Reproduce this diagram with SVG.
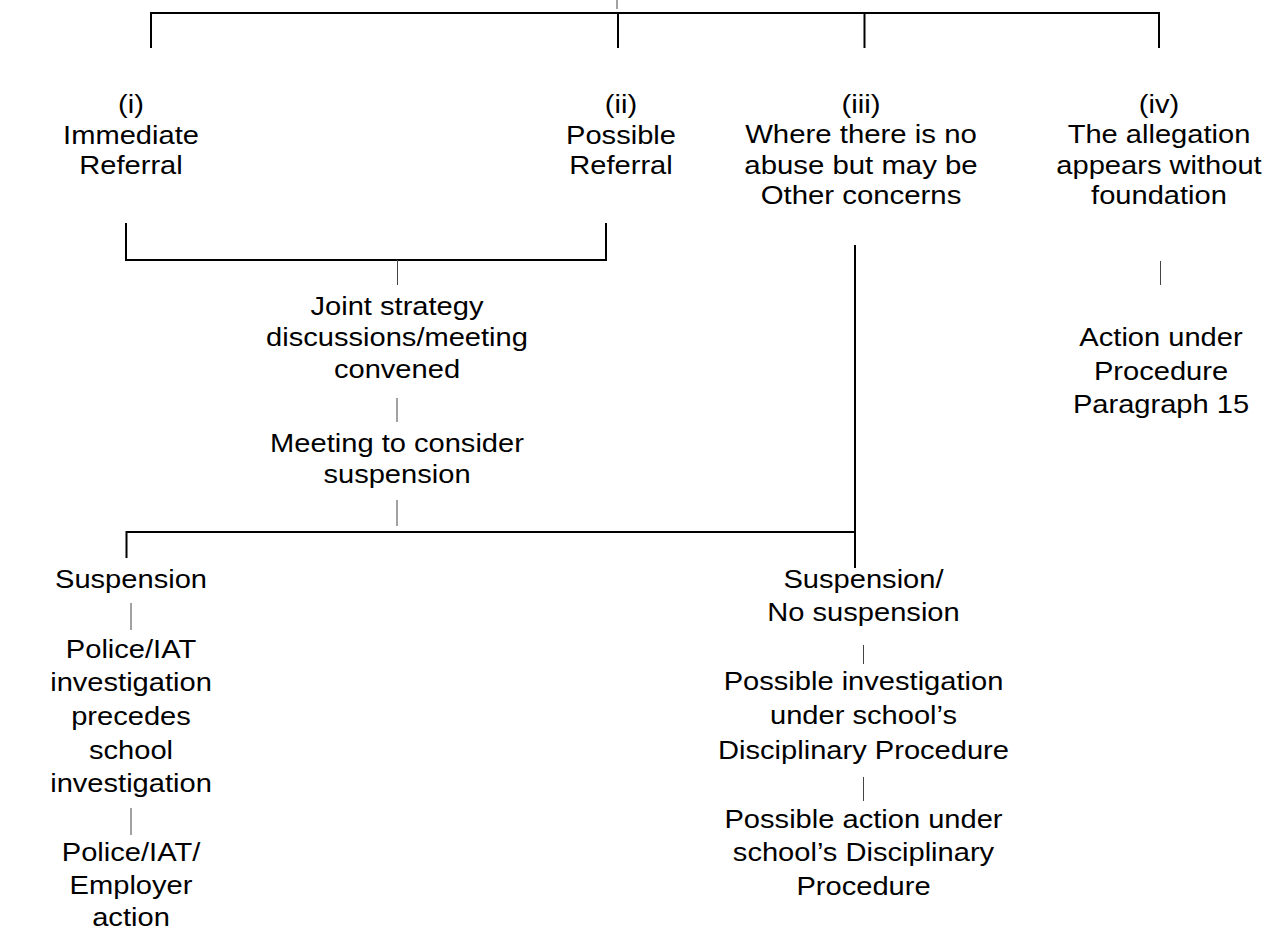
<svg xmlns="http://www.w3.org/2000/svg" width="1281" height="930" viewBox="0 0 1281 930">
<style>
.t{font-family:"Liberation Sans",Arial,sans-serif;font-size:26.7px;fill:#000;text-anchor:middle}
.b{stroke:#000;stroke-width:2;fill:none}
.c{stroke:#444;stroke-width:1;fill:none}
</style>
<rect width="1281" height="930" fill="#fff"/>
<g id="connectors">
<line class="c" x1="617" y1="0" x2="617" y2="9"/>
<polyline class="b" points="151,48 151,13 1159,13 1159,48"/>
<line class="b" x1="618" y1="13" x2="618" y2="48"/>
<line class="b" x1="864.5" y1="13" x2="864.5" y2="48"/>
<polyline class="b" points="126,223 126,260 606,260 606,223"/>
<line class="c" x1="397.5" y1="260" x2="397.5" y2="285"/>
<line class="c" x1="397" y1="398" x2="397" y2="422"/>
<line class="c" x1="397" y1="500" x2="397" y2="526"/>
<line class="b" x1="855" y1="245" x2="855" y2="568"/>
<polyline class="b" points="126.5,558 126.5,532 855,532"/>
<line class="c" x1="1160.5" y1="261" x2="1160.5" y2="285"/>
<line class="c" x1="131" y1="603" x2="131" y2="630"/>
<line class="c" x1="131" y1="808" x2="131" y2="835"/>
<line class="c" x1="863.5" y1="645" x2="863.5" y2="664"/>
<line class="c" x1="863.5" y1="777" x2="863.5" y2="801"/>
</g>
<g id="n-i" transform="translate(131 0) scale(1.09 1)">
<text class="t" x="0" y="113">(i)</text>
<text class="t" x="0" y="144">Immediate</text>
<text class="t" x="0" y="174.5">Referral</text>
</g>
<g id="n-ii" transform="translate(621 0) scale(1.09 1)">
<text class="t" x="0" y="113">(ii)</text>
<text class="t" x="0" y="144">Possible</text>
<text class="t" x="0" y="174.5">Referral</text>
</g>
<g id="n-iii" transform="translate(861 0) scale(1.1 1)">
<text class="t" x="0" y="113">(iii)</text>
<text class="t" x="0" y="143.5">Where there is no</text>
<text class="t" x="0" y="174">abuse but may be</text>
<text class="t" x="0" y="204.5">Other concerns</text>
</g>
<g id="n-iv" transform="translate(1159 0) scale(1.09 1)">
<text class="t" x="0" y="113">(iv)</text>
<text class="t" x="0" y="143.5">The allegation</text>
<text class="t" x="0" y="174">appears without</text>
<text class="t" x="0" y="204.5">foundation</text>
</g>
<g id="n-joint" transform="translate(397 0) scale(1.09 1)">
<text class="t" x="0" y="315">Joint strategy</text>
<text class="t" x="0" y="346.5">discussions/meeting</text>
<text class="t" x="0" y="378">convened</text>
</g>
<g id="n-meeting" transform="translate(397 0) scale(1.09 1)">
<text class="t" x="0" y="452">Meeting to consider</text>
<text class="t" x="0" y="483">suspension</text>
</g>
<g id="n-action15" transform="translate(1161 0) scale(1.09 1)">
<text class="t" x="0" y="346">Action under</text>
<text class="t" x="0" y="380">Procedure</text>
<text class="t" x="0" y="413">Paragraph 15</text>
</g>
<g id="n-suspension" transform="translate(131 0) scale(1.09 1)">
<text class="t" x="0" y="588">Suspension</text>
</g>
<g id="n-police" transform="translate(131 0) scale(1.09 1)">
<text class="t" x="0" y="658">Police/IAT</text>
<text class="t" x="0" y="691">investigation</text>
<text class="t" x="0" y="725">precedes</text>
<text class="t" x="0" y="759">school</text>
<text class="t" x="0" y="792">investigation</text>
</g>
<g id="n-employer" transform="translate(131 0) scale(1.09 1)">
<text class="t" x="0" y="861">Police/IAT/</text>
<text class="t" x="0" y="894">Employer</text>
<text class="t" x="0" y="926">action</text>
</g>
<g id="n-nosusp" transform="translate(863.5 0) scale(1.09 1)">
<text class="t" x="0" y="588">Suspension/</text>
<text class="t" x="0" y="621.5">No suspension</text>
</g>
<g id="n-possinv" transform="translate(863.5 0) scale(1.09 1)">
<text class="t" x="0" y="690.5">Possible investigation</text>
<text class="t" x="0" y="724">under school’s</text>
<text class="t" x="0" y="759">Disciplinary Procedure</text>
</g>
<g id="n-possact" transform="translate(863.5 0) scale(1.09 1)">
<text class="t" x="0" y="828">Possible action under</text>
<text class="t" x="0" y="861.5">school’s Disciplinary</text>
<text class="t" x="0" y="895">Procedure</text>
</g>
</svg>
